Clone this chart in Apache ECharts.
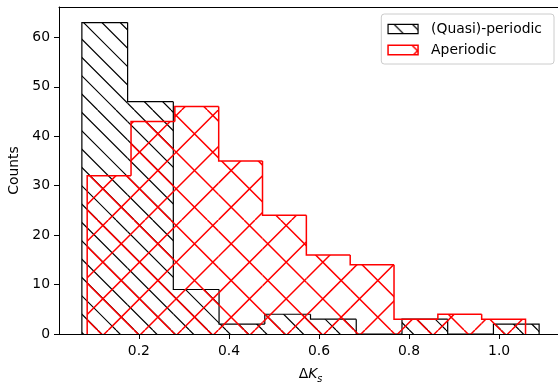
<!DOCTYPE html>
<html><head><meta charset="utf-8">
<script src="https://cdn.jsdelivr.net/npm/echarts@6/dist/echarts.min.js"></script>
<style>html,body{margin:0;padding:0;background:#fff}#c{width:558px;height:386px}</style>
</head><body><div id="c"></div>
<script>
// ---- data ----
const quasiEdges = [0.0733, 0.1749, 0.2764, 0.3780, 0.4796, 0.5811, 0.6827, 0.7843, 0.8858, 0.9874, 1.0889];
const quasiCounts = [63, 47, 9, 2, 4, 3, 0, 3, 0, 2];
const aperEdges = [0.0851, 0.1825, 0.2798, 0.3772, 0.4745, 0.5719, 0.6693, 0.7666, 0.8640, 0.9613, 1.0587];
const aperCounts = [32, 43, 46, 35, 24, 16, 14, 3, 4, 3];
const xTicks = [0.2, 0.4, 0.6, 0.8, 1.0];
const yTicks = [0, 10, 20, 30, 40, 50, 60];
const seriesNames = ['(Quasi)-periodic', 'Aperiodic'];

const FONT = 'DejaVu Sans';

// hatch tile (style only): lines x-y=c (back) and x+y=c (fwd), anchored at canvas origin
function makeHatch(color, lw, back, fwd) {
  const S = 110;
  const c = document.createElement('canvas'); c.width = S; c.height = S;
  const g = c.getContext('2d'); g.strokeStyle = color; g.lineWidth = lw;
  g.beginPath();
  if (back) {
    const [off, d] = back;
    for (let v = off - Math.ceil((S + off) / d) * d; v <= S; v += d) { g.moveTo(v, 0); g.lineTo(v + S, S); }
  }
  if (fwd) {
    const [off, d] = fwd;
    for (let v = off - Math.ceil(off / d) * d; v <= 2 * S + d; v += d) { g.moveTo(v, 0); g.lineTo(v - S, S); }
  }
  g.stroke();
  return { image: c, repeat: 'repeat' };
}

function toItems(edges, counts) {
  return counts.map((v, i) => [edges[i], edges[i + 1], v, i === 0 ? 0 : counts[i - 1], i === counts.length - 1 ? 1 : 0]);
}

function makeRender(pattern, color, lw) {
  return function (params, api) {
    const l = api.value(0), r = api.value(1), h = api.value(2), p = api.value(3), last = api.value(4);
    const p0 = api.coord([l, 0]), pl = api.coord([l, h]), pr = api.coord([r, h]), pp = api.coord([l, p]), r0 = api.coord([r, 0]);
    const pts = [pp, pl, pr]; if (last) pts.push(r0);
    return { type: 'group', children: [
      { type: 'rect', silent: true, shape: { x: pl[0], y: pl[1], width: pr[0] - pl[0], height: p0[1] - pl[1] }, style: { fill: pattern } },
      { type: 'polyline', shape: { points: pts }, style: { stroke: color, lineWidth: lw, fill: null } }
    ] };
  };
}

const hatchBlack = makeHatch('#000', 1.2, [6, 110 / 6], null);
const hatchRed = makeHatch('#ff0000', 1.5, [24, 110 / 3], [35, 110 / 3]);

const chart = echarts.init(document.getElementById('c'), null, { renderer: 'canvas' });
chart.setOption({
  animation: false,
  backgroundColor: '#fff',
  textStyle: { fontFamily: FONT },
  grid: { left: 59, top: 7, width: 503, height: 327, containLabel: false, outerBoundsMode: 'none' },
  xAxis: [{
    type: 'value', min: 0.0225, max: 1.1397, position: 'bottom',
    splitLine: { show: false },
    axisLine: { show: true, onZero: false, lineStyle: { color: '#000', width: 1 } },
    axisTick: { show: true, length: 5, lineStyle: { color: '#000', width: 1 }, customValues: xTicks },
    axisLabel: { show: true, margin: 10, fontSize: 13.9, color: '#000', fontFamily: FONT, customValues: xTicks, formatter: v => v.toFixed(1) },
    name: 'Δ{i|K}{s|s}', nameLocation: 'middle', nameGap: 30,
    nameTextStyle: { fontSize: 13.9, color: '#000', fontFamily: FONT, lineHeight: 20,
      rich: { i: { fontStyle: 'italic', fontSize: 13.9, fontFamily: FONT, color: '#000', lineHeight: 20 },
              s: { fontStyle: 'italic', fontSize: 9.7, fontFamily: FONT, color: '#000', lineHeight: 12, verticalAlign: 'bottom' } } }
  }, {
    type: 'value', min: 0.0225, max: 1.1397, position: 'top',
    splitLine: { show: false }, axisTick: { show: false }, axisLabel: { show: false },
    axisLine: { show: true, onZero: false, lineStyle: { color: '#000', width: 1 } }
  }],
  yAxis: [{
    type: 'value', min: 0, max: 66.15,
    splitLine: { show: false },
    axisLine: { show: true, lineStyle: { color: '#000', width: 1 } },
    axisTick: { show: true, length: 5, lineStyle: { color: '#000', width: 1 }, customValues: yTicks },
    axisLabel: { show: true, margin: 9, fontSize: 13.9, color: '#000', fontFamily: FONT, customValues: yTicks },
    name: 'Counts', nameLocation: 'middle', nameGap: 38,
    nameTextStyle: { fontSize: 13.9, color: '#000', fontFamily: FONT }
  }],
  legend: {
    show: true, orient: 'vertical', right: 4, top: 14,
    backgroundColor: 'rgba(255,255,255,0.8)', borderColor: '#cccccc', borderWidth: 1, borderRadius: 3,
    padding: [8, 12, 7, 6], itemWidth: 30, itemHeight: 9.4, itemGap: 7,
    textStyle: { fontSize: 13.9, color: '#000', fontFamily: FONT, padding: [0, 0, 0, 8] },
    data: [
      { name: seriesNames[0], icon: 'rect', itemStyle: { color: hatchBlack, borderColor: '#000', borderWidth: 1.2 } },
      { name: seriesNames[1], icon: 'rect', itemStyle: { color: hatchRed, borderColor: '#ff0000', borderWidth: 1.5 } }
    ]
  },
  series: [{
    name: seriesNames[0], type: 'custom', xAxisIndex: 0, yAxisIndex: 0,
    renderItem: makeRender(hatchBlack, '#000', 1.2),
    encode: { x: [0, 1], y: [2] },
    itemStyle: { color: '#000' },
    data: toItems(quasiEdges, quasiCounts)
  }, {
    name: seriesNames[1], type: 'custom', xAxisIndex: 0, yAxisIndex: 0,
    renderItem: makeRender(hatchRed, '#ff0000', 1.5),
    encode: { x: [0, 1], y: [2] },
    itemStyle: { color: '#ff0000' },
    data: toItems(aperEdges, aperCounts)
  }]
});
</script></body></html>
